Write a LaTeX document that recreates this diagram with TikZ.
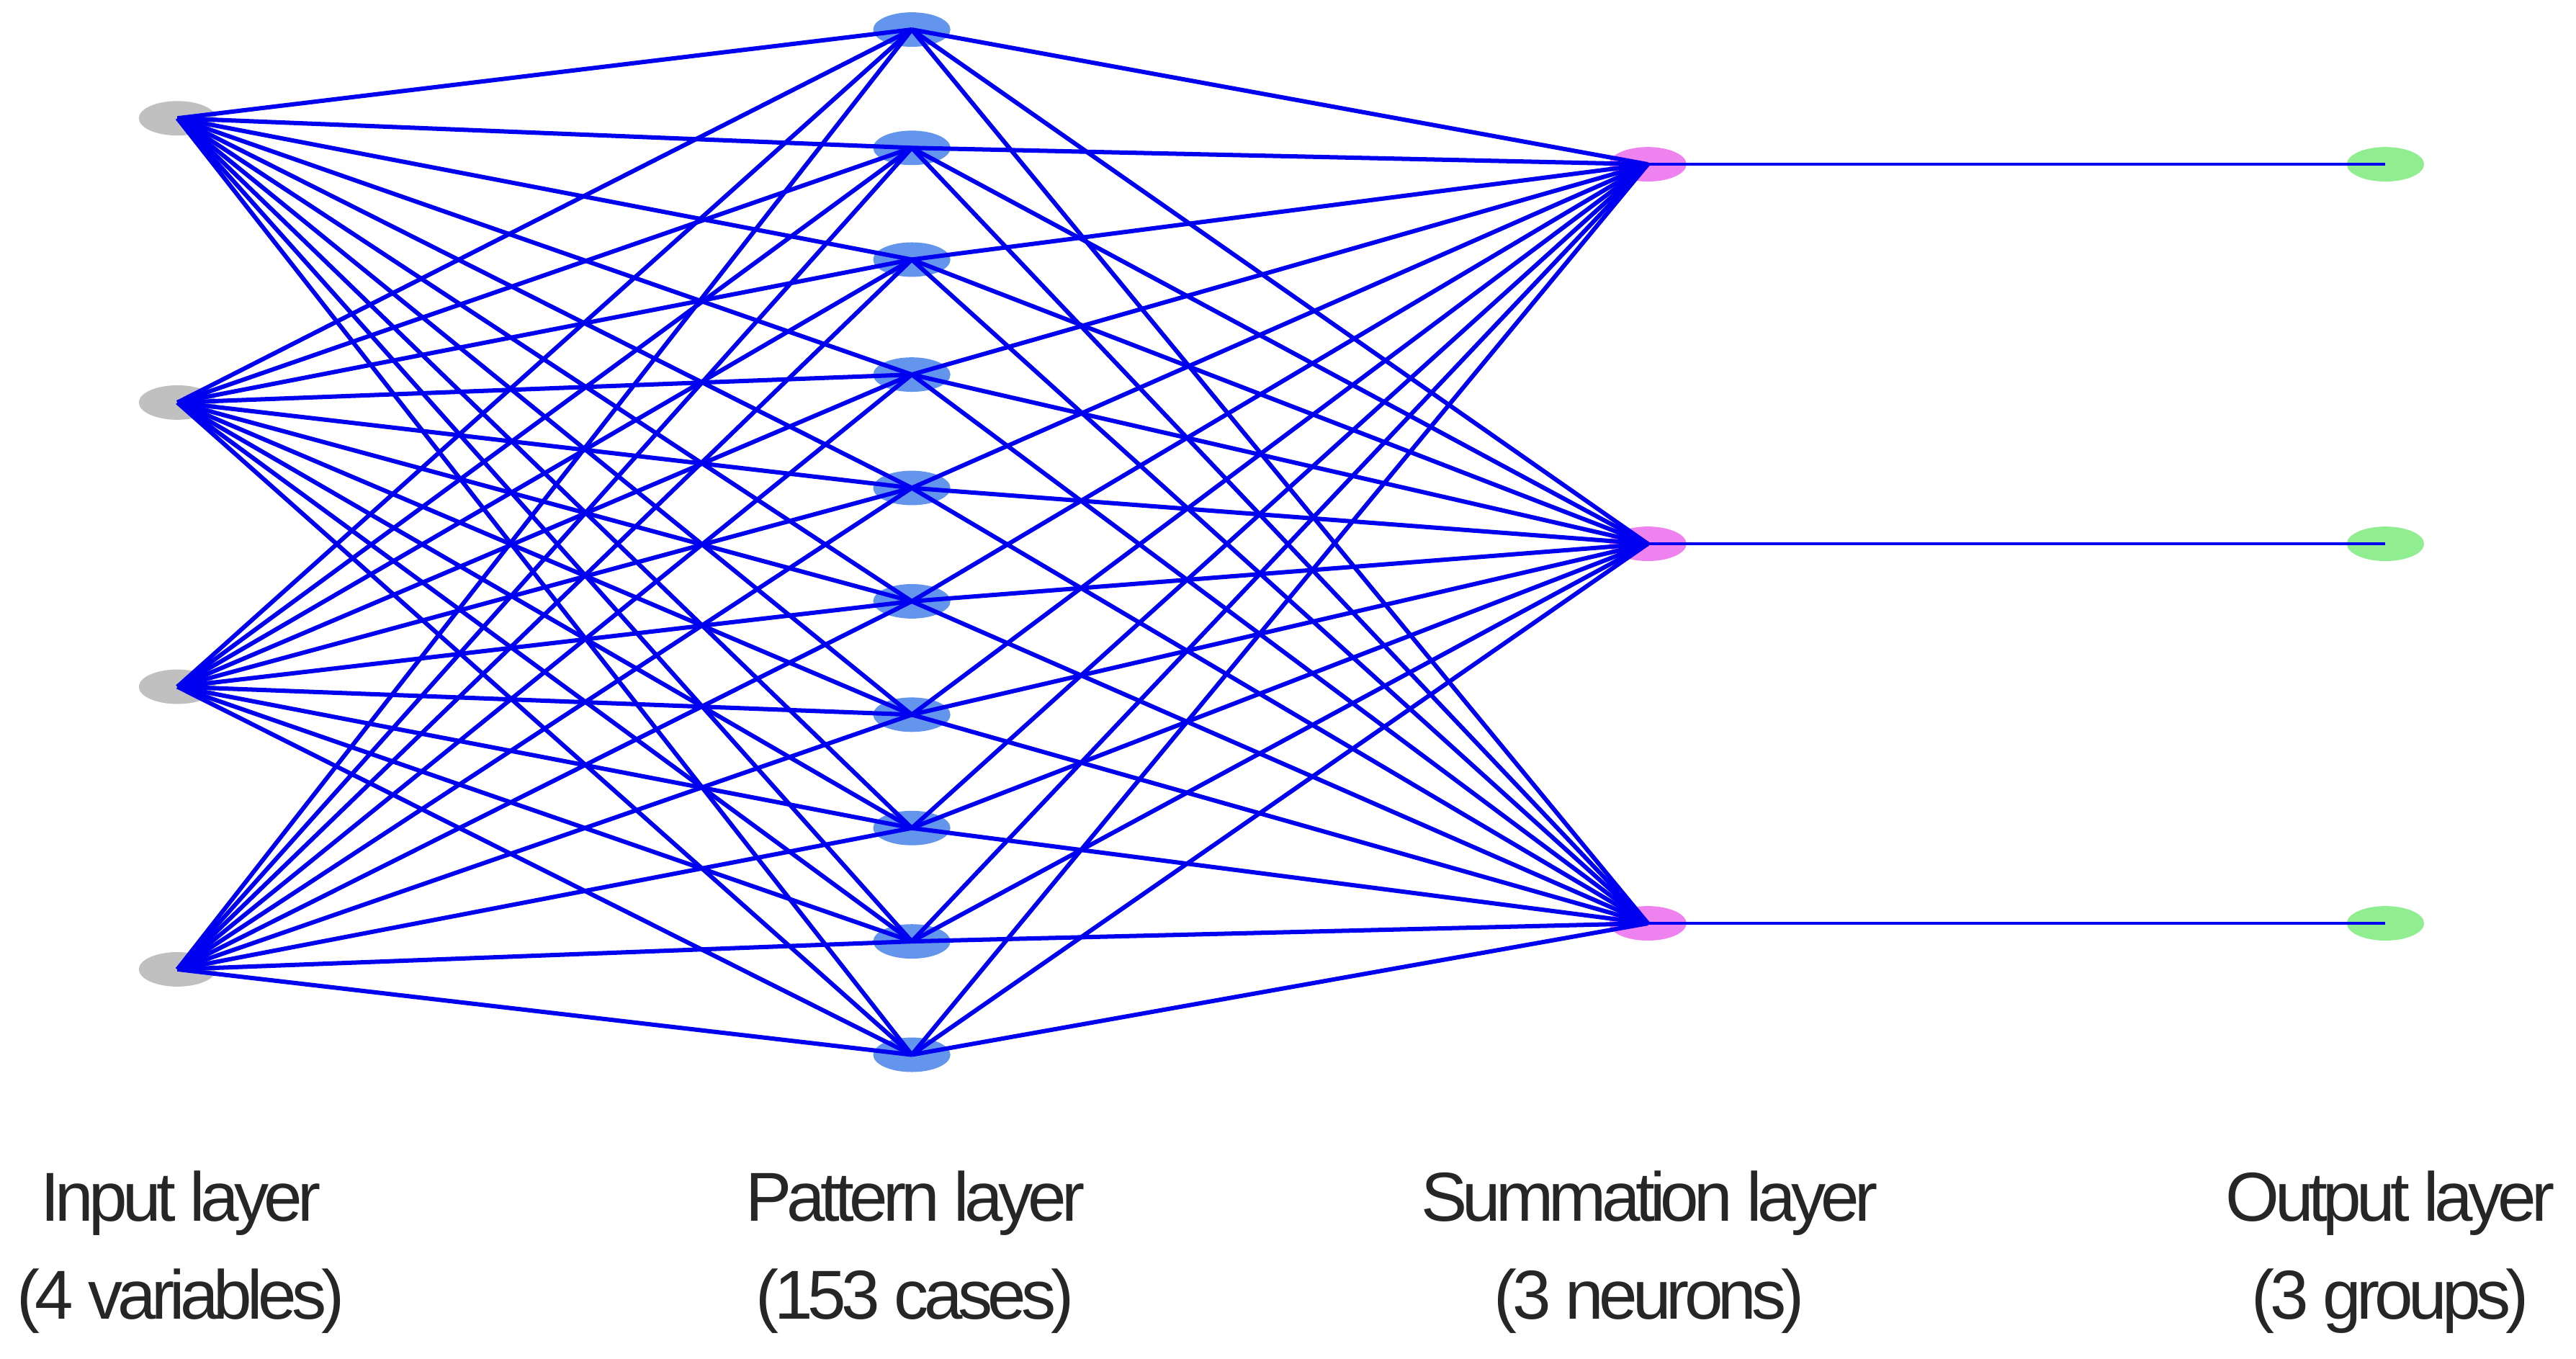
\documentclass[tikz,border=0pt]{standalone}
\usepackage{fontspec}
\setmainfont{Liberation Sans}[LetterSpace=-7]
\definecolor{inp}{RGB}{192,192,192}
\definecolor{pat}{RGB}{100,149,237}
\definecolor{sumc}{RGB}{238,130,238}
\definecolor{outc}{RGB}{144,238,144}
\begin{document}
\begin{tikzpicture}[x=0.02cm,y=-0.02cm,
  neuron/.style={ellipse,minimum width=0.94cm,minimum height=0.42cm,inner sep=0pt,draw=none},
  conn/.style={draw={rgb,255:red,0;green,0;blue,240},line width=1.5pt},
  lab/.style={font=\fontsize{24}{34}\selectfont,align=center,text=black!85}]
\useasboundingbox (0,0) rectangle (1568,827);
\usetikzlibrary{shapes.geometric}
\foreach \i/\y in {1/72,2/245,3/418,4/590}
  \node[neuron,fill=inp] (i\i) at (108,\y) {};
\foreach \i/\y in {1/18,2/90,3/158,4/228,5/297,6/366,7/435,8/504,9/573,10/642}
  \node[neuron,fill=pat] (p\i) at (555,\y) {};
\foreach \i/\y in {1/100,2/331,3/562}{
  \node[neuron,fill=sumc] (s\i) at (1003,\y) {};
  \node[neuron,fill=outc] (o\i) at (1452,\y) {};}
\foreach \a in {1,...,4}\foreach \b in {1,...,10}
  \draw[conn] (i\a.center) -- (p\b.center);
\foreach \a in {1,...,10}\foreach \b in {1,2,3}
  \draw[conn] (p\a.center) -- (s\b.center);
\foreach \a in {1,2,3}
  \draw[conn,line width=1pt] (s\a.center) -- (o\a.center);
\node[lab] (l1) at (110,762) {Input layer\\(4 variables)};
\node[lab] (l2) at (557,762) {Pattern layer\\(153 cases)};
\node[lab] (l3) at (1004,762) {Summation layer\\(3 neurons)};
\node[lab] (l4) at (1455,762) {Output layer\\(3 groups)};
\end{tikzpicture}
\end{document}
